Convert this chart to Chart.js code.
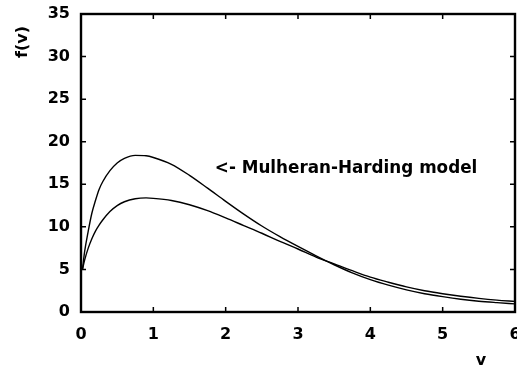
<!DOCTYPE html>
<html>
<head>
<meta charset="utf-8">
<script src="https://cdn.jsdelivr.net/npm/chart.js@4/dist/chart.umd.min.js"></script>
<style>
html,body{margin:0;padding:0;background:#fff;}
#wrap{width:517px;height:374px;position:relative;}
</style>
</head>
<body>
<div id="wrap"><canvas id="c" width="517" height="374"></canvas></div>
<script>
// ---- data ----
const vValues         = [0.02,0.05,0.1,0.15,0.2,0.25,0.3,0.4,0.5,0.6,0.75,0.9,1.0,1.25,1.5,1.75,2.0,2.25,2.5,2.75,3.0,3.25,3.5,3.75,4.0,4.25,4.5,4.75,5.0,5.25,5.5,5.75,6.0];
const mulheranHarding = [5.0,7.1,9.5,11.6,13.1,14.4,15.3,16.6,17.5,18.05,18.4,18.35,18.15,17.35,16.05,14.55,13.0,11.5,10.1,8.85,7.7,6.6,5.55,4.6,3.8,3.15,2.6,2.15,1.8,1.5,1.27,1.1,0.95];
const otherCurve      = [5.0,6.1,7.5,8.6,9.5,10.2,10.8,11.8,12.5,12.95,13.3,13.4,13.35,13.1,12.6,11.9,11.05,10.15,9.25,8.3,7.4,6.45,5.65,4.85,4.1,3.5,2.95,2.5,2.15,1.85,1.6,1.4,1.25];
const xTicks = [0,1,2,3,4,5,6];
const yTicks = [0,5,10,15,20,25,30,35];
const xTitle = "v";
const yTitle = "f(v)";
const annotationText = "<- Mulheran-Harding model";
const annotationAt = {x: 1.85, y: 16.3};

const FONT = "'DejaVu Sans', sans-serif";

const framePlugin = {
  id: 'frame',
  afterDraw(chart) {
    const {ctx, chartArea: a, scales: {x, y}} = chart;
    ctx.save();
    ctx.strokeStyle = '#000';
    // inward ticks
    ctx.lineWidth = 1.5;
    const L = 5;
    ctx.beginPath();
    xTicks.forEach(v => {
      const px = x.getPixelForValue(v);
      ctx.moveTo(px, a.bottom); ctx.lineTo(px, a.bottom - L);
      ctx.moveTo(px, a.top); ctx.lineTo(px, a.top + L);
    });
    yTicks.forEach(v => {
      const py = y.getPixelForValue(v);
      ctx.moveTo(a.left, py); ctx.lineTo(a.left + L, py);
      ctx.moveTo(a.right, py); ctx.lineTo(a.right - L, py);
    });
    ctx.stroke();
    // frame
    ctx.lineWidth = 2.4;
    ctx.strokeRect(a.left, a.top, a.right - a.left, a.bottom - a.top);
    // texts
    ctx.fillStyle = '#000';
    ctx.font = "bold 16.8px " + FONT;
    ctx.textAlign = 'left';
    ctx.textBaseline = 'alphabetic';
    ctx.fillText(annotationText, x.getPixelForValue(annotationAt.x), y.getPixelForValue(annotationAt.y));
    ctx.font = "bold 16px " + FONT;
    ctx.textAlign = 'center';
    ctx.textBaseline = 'middle';
    ctx.fillText(xTitle, 481, 361);
    ctx.save();
    ctx.translate(23, 42);
    ctx.rotate(-Math.PI / 2);
    ctx.fillText(yTitle, 0, 0);
    ctx.restore();
    ctx.restore();
  }
};

new Chart(document.getElementById('c'), {
  type: 'line',
  data: {
    datasets: [
      { label: 'Mulheran-Harding model', data: vValues.map((v, i) => ({x: v, y: mulheranHarding[i]})) },
      { label: 'f(v)', data: vValues.map((v, i) => ({x: v, y: otherCurve[i]})) }
    ].map(d => Object.assign(d, {
      borderColor: '#000', borderWidth: 1.4, pointRadius: 0, fill: false,
      cubicInterpolationMode: 'monotone'
    }))
  },
  options: {
    responsive: false,
    animation: false,
    events: [],
    layout: { padding: { top: 14, right: 2, left: 0, bottom: 0 } },
    plugins: { legend: { display: false }, tooltip: { enabled: false } },
    scales: {
      x: {
        type: 'linear', min: 0, max: 6,
        afterBuildTicks(s) { s.ticks = xTicks.map(v => ({value: v})); },
        afterFit(s) { s.height = 62; s.paddingLeft = 0; s.paddingRight = 0; },
        grid: { display: false, drawTicks: false },
        border: { display: false },
        ticks: { color: '#000', padding: 13, maxRotation: 0, autoSkip: false, font: { family: FONT, size: 16, weight: 'bold' } }
      },
      y: {
        type: 'linear', min: 0, max: 35,
        afterBuildTicks(s) { s.ticks = yTicks.map(v => ({value: v})); },
        afterFit(s) { s.width = 81; s.paddingTop = 0; s.paddingBottom = 0; },
        grid: { display: false, drawTicks: false },
        border: { display: false },
        ticks: { color: '#000', padding: 11, autoSkip: false, font: { family: FONT, size: 16, weight: 'bold' } }
      }
    }
  },
  plugins: [framePlugin]
});
</script>
</body>
</html>
